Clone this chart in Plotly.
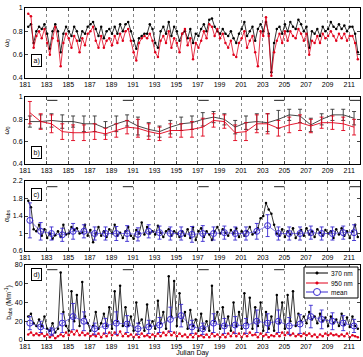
import plotly.graph_objects as go
from plotly.subplots import make_subplots

# ---------------- data ----------------
# sub-daily samples: 4 per day starting at day 181.3
n_samples = 123
times = [181.3 + 0.25 * i for i in range(n_samples)]

w0_370 = [0.84, 0.86, 0.70, 0.80, 0.84, 0.82, 0.86, 0.78, 0.65, 0.80, 0.86, 0.80,
          0.62, 0.78, 0.84, 0.80, 0.76, 0.84, 0.80, 0.72, 0.80, 0.78, 0.84, 0.86,
          0.88, 0.82, 0.76, 0.84, 0.74, 0.80, 0.82, 0.78, 0.84, 0.78, 0.86, 0.80,
          0.86, 0.88, 0.80, 0.72, 0.65, 0.74, 0.76, 0.78, 0.78, 0.86, 0.82, 0.70,
          0.66, 0.80, 0.84, 0.78, 0.88, 0.76, 0.84, 0.80, 0.72, 0.78, 0.80, 0.74,
          0.82, 0.70, 0.78, 0.76, 0.82, 0.86, 0.80, 0.90, 0.91, 0.84, 0.80, 0.78,
          0.82, 0.78, 0.76, 0.80, 0.74, 0.70, 0.78, 0.82, 0.88, 0.76, 0.80, 0.84,
          0.72, 0.82, 0.86, 0.80, 0.88, 0.78, 0.45, 0.70, 0.82, 0.84, 0.78, 0.86,
          0.80, 0.88, 0.84, 0.82, 0.90, 0.86, 0.80, 0.84, 0.66, 0.80, 0.78, 0.82,
          0.76, 0.84, 0.80, 0.82, 0.88, 0.84, 0.82, 0.86, 0.82, 0.85, 0.80, 0.84,
          0.84, 0.78, 0.62]
w0_950 = [0.95, 0.93, 0.66, 0.76, 0.80, 0.74, 0.82, 0.70, 0.60, 0.74, 0.84, 0.72,
          0.50, 0.70, 0.78, 0.74, 0.66, 0.76, 0.72, 0.62, 0.74, 0.68, 0.78, 0.80,
          0.84, 0.72, 0.66, 0.76, 0.66, 0.72, 0.74, 0.68, 0.76, 0.70, 0.78, 0.72,
          0.80, 0.82, 0.72, 0.62, 0.55, 0.70, 0.74, 0.76, 0.74, 0.78, 0.72, 0.62,
          0.58, 0.72, 0.76, 0.70, 0.80, 0.66, 0.74, 0.70, 0.62, 0.78, 0.82, 0.68,
          0.74, 0.56, 0.70, 0.66, 0.72, 0.80, 0.74, 0.86, 0.84, 0.76, 0.82, 0.74,
          0.78, 0.70, 0.66, 0.72, 0.60, 0.58, 0.70, 0.74, 0.80, 0.66, 0.72, 0.76,
          0.62, 0.50, 0.80, 0.76, 0.92, 0.76, 0.42, 0.62, 0.72, 0.78, 0.70, 0.80,
          0.72, 0.80, 0.76, 0.74, 0.82, 0.78, 0.72, 0.78, 0.60, 0.72, 0.70, 0.76,
          0.70, 0.78, 0.74, 0.76, 0.80, 0.76, 0.72, 0.78, 0.74, 0.78, 0.72, 0.76,
          0.76, 0.70, 0.56]

alpha_abs = [1.75, 1.60, 1.10, 1.05, 1.20, 0.95, 1.10, 0.90, 1.00, 0.88, 0.96, 1.05,
             0.92, 1.20, 0.98, 1.00, 1.15, 1.08, 1.12, 1.00, 1.02, 1.20, 0.95, 1.08,
             0.80, 1.00, 1.15, 0.95, 1.05, 0.92, 1.10, 1.00, 1.20, 0.95, 1.02, 0.90,
             1.05, 1.15, 0.95, 0.88, 1.08, 1.00, 1.25, 0.98, 1.15, 1.00, 1.05, 0.98,
             1.18, 1.02, 0.92, 1.05, 1.10, 0.95, 1.05, 1.00, 0.92, 1.05, 0.95, 1.10,
             0.90, 1.15, 0.85, 1.05, 1.12, 0.92, 1.05, 0.98, 0.85, 1.05, 1.15, 1.00,
             1.10, 1.02, 0.95, 1.08, 1.00, 1.12, 0.92, 1.05, 0.95, 1.05, 1.15, 0.98,
             1.02, 1.12, 1.35, 1.40, 1.70, 1.55, 1.45, 1.20, 1.00, 0.95, 1.10, 0.92,
             1.05, 0.98, 1.12, 0.90, 1.00, 1.08, 0.95, 1.12, 0.98, 1.05, 0.92, 1.10,
             1.02, 0.95, 1.08, 1.00, 1.05, 0.90, 1.10, 0.98, 1.12, 0.95, 1.05, 0.90,
             1.05, 1.20, 0.92]

babs_370 = [25, 28, 18, 15, 22, 15, 25, 12, 10, 18, 8, 12, 72, 30, 15, 10,
            52, 20, 48, 15, 62, 25, 18, 10, 15, 30, 12, 18, 28, 15, 35, 12,
            52, 20, 58, 15, 35, 15, 25, 10, 40, 18, 22, 10, 38, 15, 20, 12,
            42, 18, 30, 12, 68, 25, 63, 15, 50, 20, 30, 12, 32, 15, 22, 10,
            28, 12, 20, 10, 58, 20, 30, 12, 35, 15, 25, 10, 40, 15, 30, 12,
            50, 18, 45, 12, 35, 15, 40, 10, 30, 12, 25, 10, 48, 18, 40, 12,
            48, 20, 52, 15, 28, 20, 25, 18, 30, 22, 25, 18, 28, 20, 24, 15,
            25, 18, 22, 15, 28, 16, 24, 14, 25, 15, 12]
babs_950 = [6, 8, 5, 7, 5, 7, 4, 6, 3, 5, 2, 4, 6, 4, 8, 5,
            9, 6, 10, 5, 8, 5, 7, 4, 6, 4, 7, 3, 7, 4, 8, 5,
            8, 5, 9, 4, 7, 4, 6, 3, 6, 3, 7, 4, 5, 3, 6, 4,
            7, 4, 8, 5, 9, 5, 8, 4, 7, 4, 6, 3, 6, 3, 7, 4,
            5, 3, 6, 3, 7, 4, 6, 3, 6, 3, 7, 4, 8, 4, 7, 3,
            7, 4, 8, 5, 6, 3, 7, 4, 6, 3, 5, 4, 7, 4, 8, 5,
            8, 5, 7, 4, 6, 4, 7, 5, 7, 4, 6, 3, 6, 4, 7, 5,
            7, 5, 6, 4, 6, 4, 7, 3, 5, 4, 3]

# daily means (one per day, 181..211)
days = list(range(181, 212))
day_pos = [d + 0.45 for d in days]
w0_370_day = [0.78, 0.78, 0.79, 0.78, 0.78, 0.76, 0.76, 0.72, 0.76, 0.79, 0.74, 0.71,
              0.69, 0.73, 0.76, 0.77, 0.80, 0.82, 0.80, 0.73, 0.77, 0.78, 0.77, 0.80,
              0.84, 0.83, 0.75, 0.80, 0.84, 0.84, 0.81]
w0_370_err = [0.05, 0.06, 0.06, 0.06, 0.05, 0.07, 0.07, 0.06, 0.07, 0.05, 0.08, 0.06,
              0.05, 0.06, 0.06, 0.06, 0.06, 0.05, 0.05, 0.06, 0.06, 0.07, 0.08, 0.08,
              0.05, 0.06, 0.06, 0.05, 0.05, 0.05, 0.06]
w0_950_day = [0.86, 0.78, 0.76, 0.69, 0.68, 0.68, 0.69, 0.67, 0.70, 0.73, 0.72, 0.69,
              0.67, 0.70, 0.70, 0.71, 0.73, 0.79, 0.78, 0.68, 0.69, 0.76, 0.76, 0.72,
              0.75, 0.77, 0.74, 0.77, 0.77, 0.76, 0.73]
w0_950_err = [0.10, 0.07, 0.08, 0.07, 0.07, 0.07, 0.07, 0.05, 0.06, 0.06, 0.08, 0.07,
              0.06, 0.06, 0.06, 0.07, 0.08, 0.06, 0.06, 0.07, 0.08, 0.08, 0.09, 0.07,
              0.07, 0.07, 0.06, 0.05, 0.06, 0.06, 0.07]
alpha_day = [1.30, 1.05, 1.00, 0.97, 1.05, 1.05, 1.00, 1.00, 1.00, 1.00, 0.98, 1.05,
             1.02, 1.00, 1.00, 0.98, 1.00, 1.00, 1.02, 1.00, 1.00, 1.05, 1.18, 1.00,
             1.00, 1.00, 1.02, 1.00, 1.00, 1.02, 1.02]
alpha_err = [0.40, 0.20, 0.15, 0.15, 0.18, 0.15, 0.15, 0.15, 0.16, 0.18, 0.15, 0.15,
             0.15, 0.15, 0.15, 0.18, 0.18, 0.15, 0.15, 0.15, 0.15, 0.18, 0.25, 0.15,
             0.15, 0.15, 0.15, 0.15, 0.15, 0.15, 0.18]
babs_day = [18, 14, 9, 18, 25, 20, 12, 15, 18, 17, 12, 14, 16, 22, 26, 14, 12, 18,
            15, 16, 15, 20, 18, 20, 15, 17, 25, 22, 20, 18, 15]
babs_err = [7, 6, 4, 10, 14, 10, 6, 8, 12, 9, 6, 7, 8, 13, 12, 7, 6, 10, 8, 9,
            8, 12, 10, 12, 9, 10, 12, 10, 9, 8, 7]

weekend_start = [183, 190, 197, 204, 211]
tick_days = list(range(181, 212, 2))
legend_names = ["370 nm", "950 nm", "mean"]

# ---------------- figure ----------------
H_TOP, H_BOT, L, R = 8, 17, 25, 3
W, HGT = 363, 357
PH = HGT - H_TOP - H_BOT
PW = W - L - R
def dom(top_px, bot_px):
    return [(HGT - H_BOT - bot_px) / PH, (HGT - H_BOT - top_px) / PH]
def px2x(px):
    return (px - L) / PW
def px2y(py):
    return (HGT - H_BOT - py) / PH

fig = make_subplots(rows=4, cols=1)
FAM = "Liberation Sans, Arial, sans-serif"
font = dict(family=FAM, size=7, color="black")

BLK = "black"
RED = "#e0001a"
BLU = "#3a2ad0"

def add_series(row, y, color, size=2.5):
    fig.add_trace(go.Scatter(x=times, y=y, mode="lines+markers", showlegend=False,
                             line=dict(color=color, width=0.8),
                             marker=dict(color=color, size=size)),
                  row=row, col=1)

# panel a
add_series(1, w0_370, BLK)
add_series(1, w0_950, RED)

# panel b
fig.add_trace(go.Scatter(x=day_pos, y=w0_370_day, mode="lines", showlegend=False,
                         line=dict(color="#333333", width=0.9),
                         error_y=dict(type="data", array=w0_370_err, color="#333333",
                                      thickness=0.9, width=2)), row=2, col=1)
fig.add_trace(go.Scatter(x=day_pos, y=w0_950_day, mode="lines", showlegend=False,
                         line=dict(color=RED, width=0.9),
                         error_y=dict(type="data", array=w0_950_err, color=RED,
                                      thickness=0.9, width=2)), row=2, col=1)

# panel c
add_series(3, alpha_abs, BLK)
fig.add_trace(go.Scatter(x=day_pos, y=alpha_day, mode="lines+markers", showlegend=False,
                         line=dict(color=BLU, width=0.6),
                         marker=dict(symbol="circle-open", color=BLU, size=6,
                                     line=dict(width=1)),
                         error_y=dict(type="data", array=alpha_err, color=BLU,
                                      thickness=0.9, width=2)), row=3, col=1)

# panel d
add_series(4, babs_370, BLK)
add_series(4, babs_950, RED)
fig.add_trace(go.Scatter(x=day_pos, y=babs_day, mode="lines+markers", showlegend=False,
                         line=dict(color=BLU, width=0.6),
                         marker=dict(symbol="circle-open", color=BLU, size=6,
                                     line=dict(width=1)),
                         error_y=dict(type="data", array=babs_err, color=BLU,
                                      thickness=0.9, width=2)), row=4, col=1)

# weekend bars
wk_levels = {2: 0.97, 3: 2.07, 4: 75}
for row, lvl in wk_levels.items():
    xs, ys = [], []
    for d in weekend_start:
        xs += [d + 0.05, min(d + 1.0, 212), None]
        ys += [lvl, lvl, None]
    fig.add_trace(go.Scatter(x=xs, y=ys, mode="lines", showlegend=False,
                             line=dict(color="#222222", width=1)), row=row, col=1)

domains = [dom(8, 78), dom(97, 164), dom(181, 251), dom(265, 340)]
yranges = [[0.4, 1.0], [0.4, 1.0], [0.6, 2.2], [0, 80]]
yticks = [[0.4, 0.6, 0.8, 1], [0.4, 0.6, 0.8, 1], [0.6, 1, 1.4, 1.8, 2.2], [0, 20, 40, 60, 80]]
ytitles = ["ω<sub>0</sub>", "ω<sub>0</sub>", "α<sub>abs</sub>", "b<sub>abs</sub> (Mm<sup>-1</sup>)"]

for i in range(4):
    r = i + 1
    fig.update_xaxes(range=[181, 212], tickvals=tick_days, ticks="inside", ticklen=3,
                     showline=True, linecolor="black", linewidth=1, mirror="ticks",
                     showgrid=True, gridcolor="#888888", griddash="dot", gridwidth=0.7,
                     zeroline=False, tickfont=font, row=r, col=1)
    fig.update_yaxes(range=yranges[i], tickvals=yticks[i], ticks="inside", ticklen=3,
                     showline=True, linecolor="black", linewidth=1, mirror="ticks",
                     showgrid=False, zeroline=False, tickfont=font, domain=domains[i],
                     title=dict(text=ytitles[i], font=dict(family=FAM, size=7),
                                standoff=2),
                     row=r, col=1)

fig.update_xaxes(title=dict(text="Julian Day", font=dict(family=FAM, size=7),
                            standoff=0), row=4, col=1)

# panel labels
labels = [("a)", 1, 0.55), ("b)", 2, 0.5), ("c)", 3, 1.9), ("d)", 4, 70)]
for txt, r, yy in labels:
    xref = "x" if r == 1 else f"x{r}"
    yref = "y" if r == 1 else f"y{r}"
    fig.add_annotation(text=txt, x=181.55, y=yy, xref=xref, yref=yref, xanchor="left",
                       showarrow=False, font=dict(family=FAM, size=7),
                       bordercolor="black", borderwidth=1, borderpad=1.5, bgcolor="white")

# manual compact legend (panel d, top right)
fig.add_shape(type="rect", xref="paper", yref="paper",
              x0=px2x(304), x1=px2x(358), y0=px2y(298), y1=px2y(267),
              line=dict(color="black", width=1), fillcolor="white", layer="above")
leg_colors = [BLK, RED, BLU]
leg_rows = [273, 283, 292]
for name, col, py in zip(legend_names, leg_colors, leg_rows):
    fig.add_shape(type="line", xref="paper", yref="paper",
                  x0=px2x(306), x1=px2x(328), y0=px2y(py), y1=px2y(py),
                  line=dict(color=col, width=1), layer="above")
    if name == "mean":
        fig.add_shape(type="circle", xref="paper", yref="paper",
                      xsizemode="pixel", ysizemode="pixel",
                      xanchor=px2x(317), yanchor=px2y(py),
                      x0=-3.5, x1=3.5, y0=-3.5, y1=3.5,
                      line=dict(color=col, width=1), fillcolor="white", layer="above")
    else:
        fig.add_shape(type="circle", xref="paper", yref="paper",
                      xsizemode="pixel", ysizemode="pixel",
                      xanchor=px2x(317), yanchor=px2y(py),
                      x0=-1.3, x1=1.3, y0=-1.3, y1=1.3,
                      line=dict(color=col, width=0.5), fillcolor=col, layer="above")
    fig.add_annotation(text=name, xref="paper", yref="paper", x=px2x(330), y=px2y(py),
                       xanchor="left", yanchor="middle", showarrow=False, borderpad=0,
                       font=dict(family=FAM, size=6.5, color="black"))

fig.update_layout(
    width=W, height=HGT,
    margin=dict(l=L, r=R, t=H_TOP, b=H_BOT),
    paper_bgcolor="white", plot_bgcolor="white",
    font=font, showlegend=False,
)
fig.write_html("out.html")
